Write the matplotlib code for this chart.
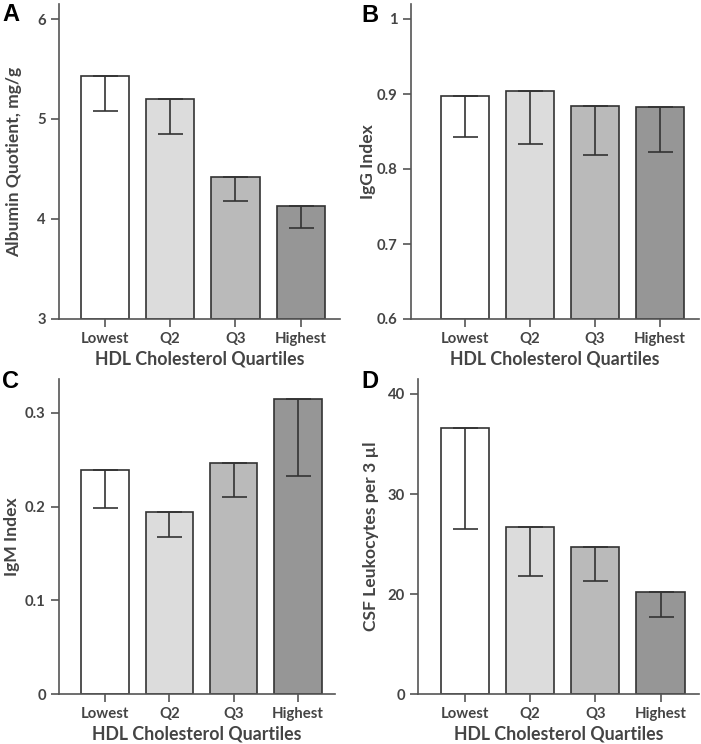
import matplotlib
matplotlib.use('Agg')
import matplotlib.pyplot as plt
import numpy as np

quartiles = ['Lowest', 'Q2', 'Q3', 'Highest']
bar_colors = ['#ffffff', '#dcdcdc', '#bababa', '#969696']

# panel values (bar top) and lower end of error bar
albumin = [5.43, 5.20, 4.42, 4.13]
albumin_low = [5.08, 4.85, 4.18, 3.91]
igg = [0.897, 0.904, 0.884, 0.883]
igg_low = [0.843, 0.833, 0.819, 0.823]
igm = [0.239, 0.194, 0.246, 0.315]
igm_low = [0.198, 0.167, 0.210, 0.233]
csf = [36.6, 26.7, 24.7, 20.2]
csf_low = [26.5, 21.8, 21.3, 17.7]

W, H = 701, 744
fig = plt.figure(figsize=(W / 100, H / 100), dpi=100)

txt = '#444444'
spine_c = '#555555'
font = 'Lato'
weight = 'bold'

panels = [
    # letter, values, lows, ylabel, rect(px: left, right, top, bottom), ylim, xlim, yticks, yticklabels,
    # letter pos, ylabel x (px)
    ('A', albumin, albumin_low, 'Albumin Quotient, mg/g', (59, 340, 4, 319), (3, 6.15), (-0.70, 3.60),
     [3, 4, 5, 6], ['3', '4', '5', '6'], (2, 3), 14),
    ('B', igg, igg_low, 'IgG Index', (411, 699, 4, 319), (0.6, 1.02), (-0.825, 3.60),
     [0.6, 0.7, 0.8, 0.9, 1.0], ['0.6', '0.7', '0.8', '0.9', '1'], (361, 4), 368.5),
    ('C', igm, igm_low, 'IgM Index', (59, 335, 379, 694), (0, 0.336), (-0.715, 3.575),
     [0, 0.1, 0.2, 0.3], ['0', '0.1', '0.2', '0.3'], (2, 370), 12),
    ('D', csf, csf_low, 'CSF Leukocytes per 3 \u00b5l', (418, 699, 379, 694), (10, 41.5), (-0.717, 3.59),
     [10, 20, 30, 40], ['0', '20', '30', '40'], (361, 370), 371),
]

x = np.arange(len(quartiles))
for letter, vals, lows, ylab, (l, r, t, b), ylim, xlim, yt, ytl, (lx, ly), ylx in panels:
    ax = fig.add_axes([l / W, 1 - b / H, (r - l) / W, (b - t) / H])
    vals = np.array(vals)
    lows = np.array(lows)
    ax.bar(x, vals - ylim[0], bottom=ylim[0], width=0.74, color=bar_colors,
           edgecolor='#333333', linewidth=1.2, zorder=2)
    ax.errorbar(x, vals, yerr=[vals - lows, np.zeros_like(vals)], fmt='none',
                ecolor='#333333', elinewidth=1.2, capsize=9, capthick=1.2, zorder=3)
    ax.set_ylim(*ylim)
    ax.set_xlim(*xlim)
    ax.set_yticks(yt, labels=ytl)
    ax.set_xticks(x, labels=quartiles)
    for s in ['top', 'right']:
        ax.spines[s].set_visible(False)
    for s in ['left', 'bottom']:
        ax.spines[s].set_color(spine_c)
        ax.spines[s].set_linewidth(1.2)
    ax.tick_params(axis='both', colors=spine_c, length=6, width=1.2, labelcolor=txt,
                   labelsize=10.7)
    for lab in ax.get_xticklabels() + ax.get_yticklabels():
        lab.set_fontfamily(font)
        lab.set_fontweight(weight)
    ax.set_xlabel('HDL Cholesterol Quartiles', fontsize=12.8, color=txt, family=font,
                  fontweight=weight, labelpad=3)
    ax.set_ylabel(ylab, fontsize=12.6, color=txt, family=font, fontweight=weight)
    ax.yaxis.set_label_coords((ylx - l) / (r - l), 0.5)
    ax.yaxis.label.set_verticalalignment('center')
    fig.text(lx / W, 1 - ly / H, letter, fontsize=17, fontweight='bold',
             family='Liberation Sans', va='top', ha='left', color='black')

fig.savefig('out.png', dpi=100)
